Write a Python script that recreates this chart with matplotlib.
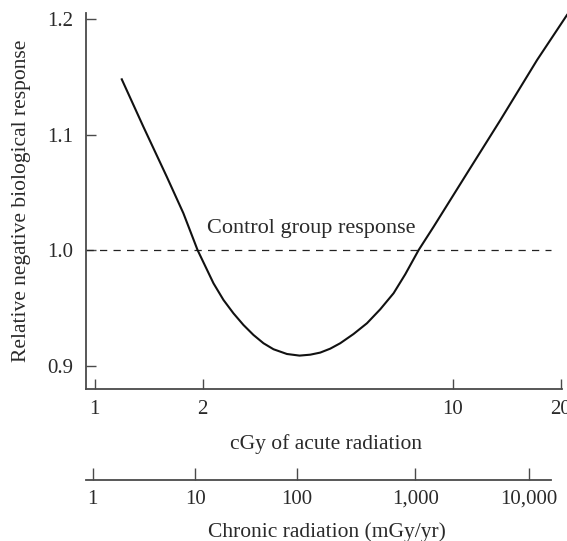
"""
Hormesis-style dose response: relative negative biological response vs dose,
with a second (chronic) dose scale drawn below the acute axis.
"""

import matplotlib
matplotlib.use("Agg")
import matplotlib.pyplot as plt

# curve: acute dose (cGy) -> relative response
acute_dose = [1.190, 1.367, 1.589, 1.768, 1.937, 2.145, 2.287, 2.439, 2.601, 2.773,
              2.958, 3.155, 3.439, 3.729, 3.995, 4.259, 4.542, 4.844, 5.277, 5.752,
              6.265, 6.826, 7.357, 8.015, 8.83, 10.94, 13.56, 17.16, 20.8]
response = [1.1478, 1.1068, 1.0635, 1.0319, 1.0, 0.9713, 0.9569, 0.9453, 0.9352, 0.9266,
            0.9194, 0.9142, 0.9101, 0.9087, 0.9095, 0.9113, 0.9147, 0.9194, 0.9274, 0.9367,
            0.9488, 0.9627, 0.9791, 1.0, 1.0203, 1.0665, 1.1126, 1.1645, 1.2035]

control_level = 1.0
control_label = "Control group response"

acute_ticks = [1, 2, 10, 20]
acute_ticklabels = ["1", "2", "10", "20"]
y_ticks = [0.9, 1.0, 1.1, 1.2]

# chronic scale: where each chronic dose rate sits on the acute axis
chronic_pos = [0.987, 1.906, 3.67, 7.85, 16.3]
chronic_labels = ["1", "10", "100", "1,000", "10,000"]

TEXT = "#2a2a2a"
SPINE = "#4a4a4a"
FS = 15
FS_LABEL = 15.5

plt.rcParams["font.family"] = ["Liberation Serif", "DejaVu Serif"]
plt.rcParams["text.color"] = TEXT

fig = plt.figure(figsize=(5.67, 5.41), dpi=100)
W, H = 567.0, 541.0
left, right = 86 / W, 567 / W
ax = fig.add_axes([left, 1 - 389 / H, right - left, (389 - 13) / H])

ax.plot(acute_dose, response, color="#111111", lw=1.5, clip_on=False, zorder=3,
        solid_joinstyle="round")
ax.plot([0.9456, 18.8], [control_level, control_level], color="#222222", lw=0.9,
        dashes=(5.8, 5.0))
ax.text(2.06, 1.0146, control_label, fontsize=16, va="baseline", ha="left")

ax.set_xscale("log")
ax.set_xlim(0.9456, 20.8)
ax.set_ylim(0.8798, 1.2052)
ax.set_xticks(acute_ticks)
ax.set_xticklabels(acute_ticklabels)
ax.xaxis.set_minor_locator(matplotlib.ticker.NullLocator())
ax.set_yticks(y_ticks)
ax.set_yticklabels([f"{v:.1f}" for v in y_ticks])

for side in ("top", "right"):
    ax.spines[side].set_visible(False)
for side in ("left", "bottom"):
    ax.spines[side].set_color(SPINE)
    ax.spines[side].set_linewidth(1.3)
ax.spines["bottom"].set_bounds(0.9456, 20.2)

ax.tick_params(axis="both", direction="in", length=7.5, width=1.0, color=SPINE,
               labelsize=FS, labelcolor=TEXT)
ax.tick_params(axis="x", pad=8)
ax.tick_params(axis="y", pad=9)
ax.set_xlabel("cGy of acute radiation", fontsize=FS_LABEL, color=TEXT, labelpad=11)
ax.set_ylabel("Relative negative biological response", fontsize=FS_LABEL, color=TEXT,
              labelpad=12)

# second scale
ax2 = fig.add_axes([left, 1 - 480 / H, right - left, 0.001])
ax2.set_xscale("log")
ax2.set_xlim(0.9456, 20.8)
ax2.set_yticks([])
for side in ("top", "right", "left"):
    ax2.spines[side].set_visible(False)
ax2.spines["bottom"].set_color(SPINE)
ax2.spines["bottom"].set_linewidth(1.3)
ax2.spines["bottom"].set_bounds(0.9456, 18.8)
ax2.patch.set_visible(False)
ax2.set_xticks(chronic_pos)
ax2.set_xticklabels(chronic_labels)
ax2.xaxis.set_minor_locator(matplotlib.ticker.NullLocator())
ax2.tick_params(axis="x", direction="in", length=8.5, width=1.0, color=SPINE,
                labelsize=FS, labelcolor=TEXT, pad=7)
ax2.set_xlabel("Chronic radiation (mGy/yr)", fontsize=FS_LABEL, color=TEXT, labelpad=10)

fig.savefig("out.png", dpi=100)
